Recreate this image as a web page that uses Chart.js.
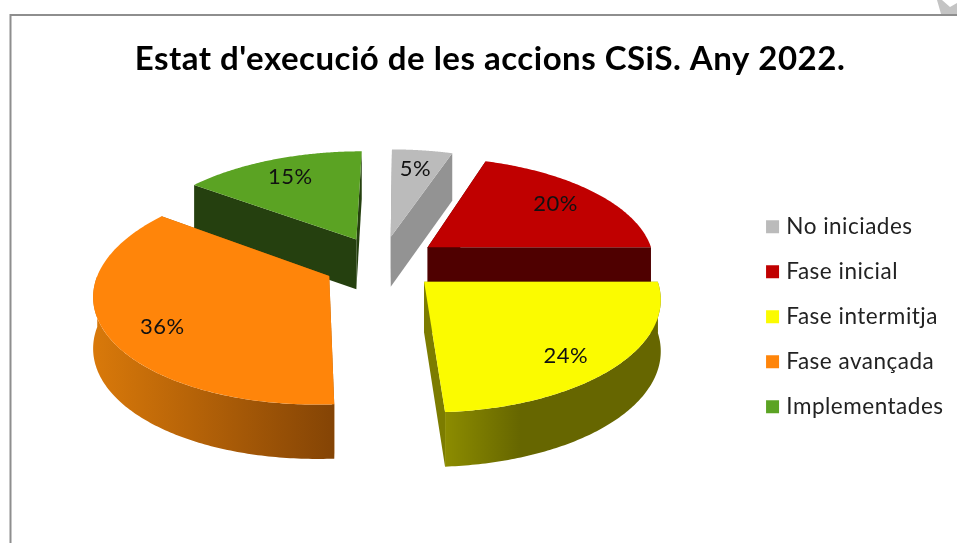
<!DOCTYPE html>
<html><head><meta charset="utf-8">
<style>html,body{margin:0;padding:0;background:#fff}canvas{display:block}</style>
<script src="https://cdn.jsdelivr.net/npm/chart.js@4"></script>
</head><body><canvas id="c" width="957" height="543"></canvas>
<script>
const titleText = "Estat d'execució de les accions CSiS. Any 2022.";
const categories = ["No iniciades","Fase inicial","Fase intermitja","Fase avançada","Implementades"];
const values = [5,20,24,36,15];
const topColors = ["#BBBBBB","#C00000","#FBFB00","#FF850A","#5BA323"];
const cutColors = ["#939393","#4F0000","#7C7C00","#A85A05","#25400F"];
const wallLeft  = ["#939393","#4F0000","#8C8C00","#D9790A","#25400F"];
const wallRight = ["#939393","#4F0000","#666600","#844405","#25400F"];
const paintOrder = [0,4,1,3,2];

const RADIUS=228, EXPLODE=58, PERSP=0.14, TILT=0.467, LIFT=54, VP=20, SHIFT=-9, LABEL_R=0.76, LABEL_TILT=1.14;

const pie3d = {
  id:'pie3d',
  beforeDraw(chart){
    const ctx=chart.ctx; ctx.save();
    ctx.fillStyle='#fff'; ctx.fillRect(0,0,chart.width,chart.height);
    ctx.strokeStyle='#8E8E8E'; ctx.lineWidth=2;
    ctx.beginPath(); ctx.moveTo(10.5,chart.height); ctx.lineTo(10.5,15); ctx.lineTo(chart.width,15); ctx.stroke();
    ctx.fillStyle='#C4C4C4'; ctx.beginPath();
    ctx.moveTo(937,0);ctx.lineTo(942,0);ctx.lineTo(950,7);ctx.lineTo(957,3);ctx.lineTo(957,14);ctx.lineTo(941,14);ctx.closePath();ctx.fill();
    ctx.restore();
    ctx.letterSpacing='0.5px';
  },
  beforeDatasetsDraw(chart){
    const ctx=chart.ctx, arcs=chart.getDatasetMeta(0).data;
    const total=values.reduce((a,b)=>a+b,0);
    const P=(el,lx,ly,z)=>{
      const s=1/(1-PERSP*ly/el.outerRadius);
      return [el.x+SHIFT+VP+s*(lx-VP), el.y-LIFT+TILT*s*ly+z*(30+20.5*s)];
    };
    const path=(pts)=>{ctx.beginPath();pts.forEach((p,i)=>i?ctx.lineTo(p[0],p[1]):ctx.moveTo(p[0],p[1]));ctx.closePath();};
    ctx.save();
    const info=arcs.map(el=>{
      const mid=(el.startAngle+el.endAngle)/2, d=el.options.offset;
      return {ox:Math.cos(mid)*d, oy:Math.sin(mid)*d, mid};
    });
    paintOrder.forEach(i=>{
      const el=arcs[i], {ox,oy}=info[i], R=el.outerRadius;
      const a0=el.startAngle,a1=el.endAngle,N=120;
      const pt=(a,r,z)=>P(el,ox+Math.cos(a)*r,oy+Math.sin(a)*r,z);
      [a0,a1].forEach(a=>{
        path([pt(a,0,0),pt(a,R,0),pt(a,R,1),pt(a,0,1)]);
        ctx.fillStyle=cutColors[i];ctx.fill();
      });
      const w0=Math.max(a0,0), w1=Math.min(a1,Math.PI);
      if(w1>w0){
        const up=[],dn=[];
        for(let k=0;k<=N;k++){const a=w0+(w1-w0)*k/N;up.push(pt(a,R,0));dn.unshift(pt(a,R,1));}
        const all=up.concat(dn), xs=all.map(p=>p[0]);
        const g=ctx.createLinearGradient(Math.min(...xs),0,Math.max(...xs),0);
        g.addColorStop(0,wallLeft[i]);
        if(i===2) g.addColorStop(0.35,wallRight[i]);
        g.addColorStop(1,wallRight[i]);
        path(all);ctx.fillStyle=g;ctx.fill();
      }
      const t=[pt(a0,0,0)];
      for(let k=0;k<=N;k++){t.push(pt(a0+(a1-a0)*k/N,R,0));}
      path(t);ctx.fillStyle=topColors[i];ctx.fill();
    });
    ctx.fillStyle='#111';ctx.font='22px Lato';ctx.textAlign='center';ctx.textBaseline='middle';
    const cy=arcs[0].y-LIFT;
    arcs.forEach((el,i)=>{
      const {ox,oy,mid}=info[i], r=el.outerRadius*LABEL_R;
      const p=P(el,ox+Math.cos(mid)*r,oy+Math.sin(mid)*r,0);
      const dy=p[1]-cy;
      ctx.fillText(Math.round(values[i]/total*100)+'%',p[0],cy+(dy>0?dy*LABEL_TILT:dy));
    });
    ctx.restore();
    return false;
  }
};

new Chart(document.getElementById('c'),{
  type:'pie',
  data:{labels:categories,datasets:[{data:values,backgroundColor:topColors,borderWidth:0,offset:EXPLODE}]},
  options:{
    responsive:false,animation:false,radius:RADIUS,
    layout:{padding:{left:33,right:10}},
    plugins:{
      tooltip:{enabled:false},
      title:{display:true,text:titleText,color:'#000',font:{family:'Lato',size:33,weight:'700'},padding:{top:40,bottom:11}},
      legend:{position:'right',fullSize:false,labels:{
        color:'#222',font:{family:'Lato',size:22.5},boxWidth:5,boxHeight:5,padding:22.5,
        generateLabels(chart){
          return Chart.overrides.pie.plugins.legend.labels.generateLabels(chart).map((it,i)=>
            Object.assign(it,{lineWidth:8,strokeStyle:topColors[i],fillStyle:topColors[i]}));
        }
      }}
    }
  },
  plugins:[pie3d]
});
</script></body></html>
